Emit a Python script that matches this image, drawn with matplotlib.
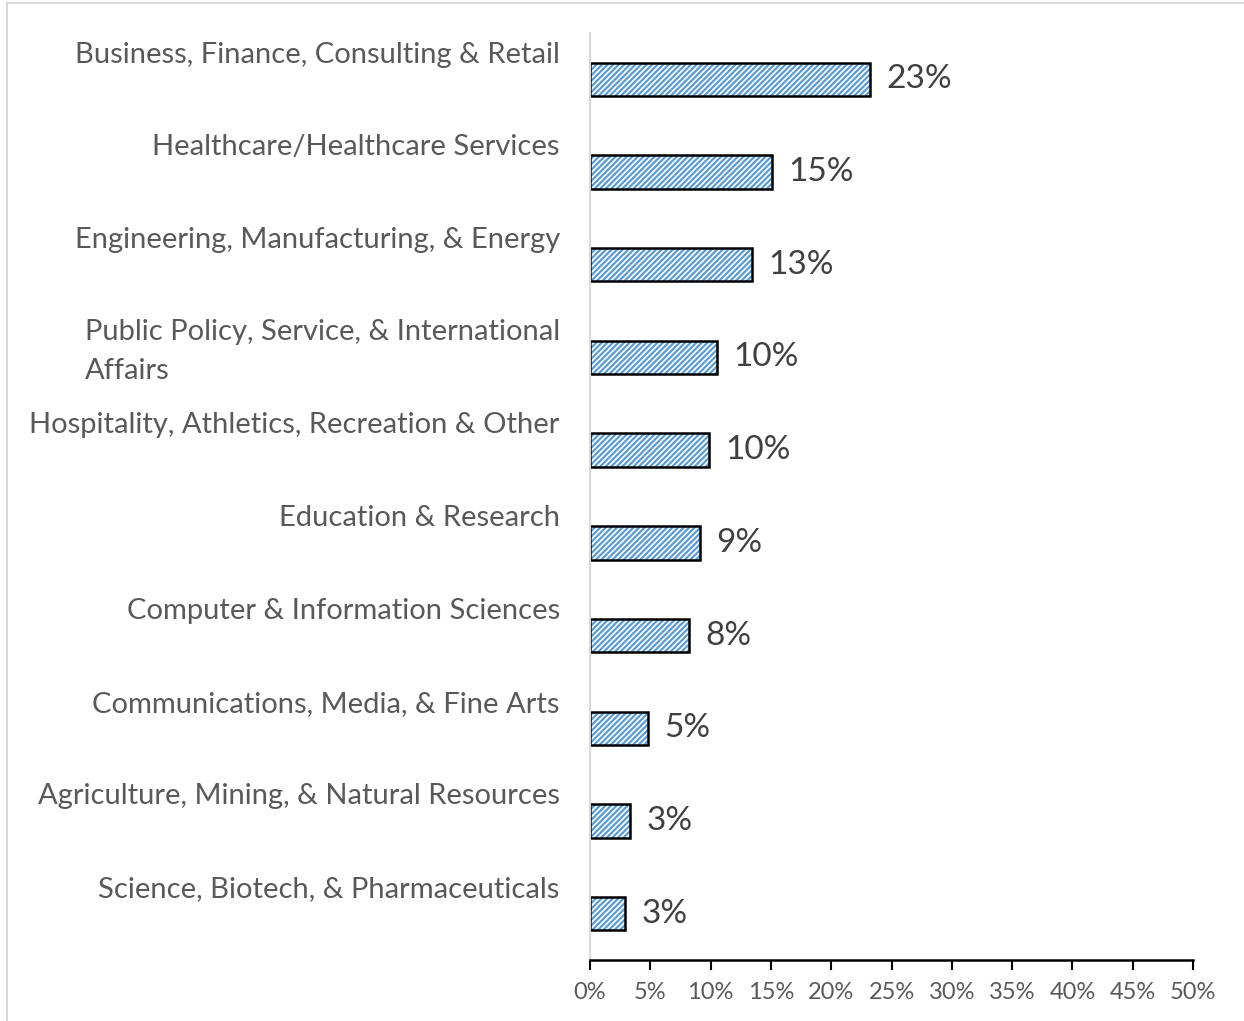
import matplotlib.pyplot as plt
import numpy as np
from matplotlib.lines import Line2D

plt.rcParams["font.family"] = ["Lato", "DejaVu Sans"]
plt.rcParams["hatch.linewidth"] = 1.6

# ---------------------------------------------------------------------------
# Data
# ---------------------------------------------------------------------------
categories = [
    "Business, Finance, Consulting & Retail",
    "Healthcare/Healthcare Services",
    "Engineering, Manufacturing, & Energy",
    "Public Policy, Service, & International\nAffairs",
    "Hospitality, Athletics, Recreation & Other",
    "Education & Research",
    "Computer & Information Sciences",
    "Communications, Media, & Fine Arts",
    "Agriculture, Mining, & Natural Resources",
    "Science, Biotech, & Pharmaceuticals",
]
values = [23.2, 15.1, 13.4, 10.5, 9.9, 9.1, 8.2, 4.8, 3.3, 2.9]
value_labels = ["23%", "15%", "13%", "10%", "10%", "9%", "8%", "5%", "3%", "3%"]
x_ticks = [0, 5, 10, 15, 20, 25, 30, 35, 40, 45, 50]

BLUE = "#5B9BD5"
GREY_TXT = "#595959"
DARK_TXT = "#404040"

W, H = 1244, 1021
fig = plt.figure(figsize=(W / 100, H / 100), dpi=100)
ax = fig.add_axes([590 / W, (H - 960) / H, 603 / W, 927 / H])

y = np.arange(len(categories))
# hatch layer (blue stripes) then black outline on top
ax.barh(y, values, height=0.36, color="white", edgecolor=BLUE,
        hatch="//////", linewidth=0)
ax.barh(y, values, height=0.36, fill=False, edgecolor="black", linewidth=1.8)

for yi, v, lab in zip(y, values, value_labels):
    ax.text(v + 1.35, yi, lab, va="center", ha="left", fontsize=24,
            color=DARK_TXT)

# category labels sit above the bar centre, Excel-style.
# va="baseline" aligns the last line, so push multi-line labels down
line_gap = 0.41
for yi, cat in zip(y, categories):
    extra = cat.count("\n") * line_gap
    ax.text(-2.5, yi - 0.18 + extra, cat, ha="right", va="baseline",
            multialignment="left", fontsize=21, color=GREY_TXT,
            linespacing=1.62)

ax.set_xlim(0, 50)
ax.set_ylim(len(categories) - 0.5, -0.5)
ax.set_yticks([])
ax.set_xticks(x_ticks)
ax.set_xticklabels([f"{t}%" for t in x_ticks])
ax.tick_params(axis="x", direction="out", length=7, width=1.5,
               colors="black", labelcolor=GREY_TXT, labelsize=17, pad=9)

for s in ["top", "right"]:
    ax.spines[s].set_visible(False)
ax.spines["bottom"].set_linewidth(1.8)
ax.spines["bottom"].set_color("black")
ax.spines["left"].set_color("#D9D9D9")
ax.spines["left"].set_linewidth(1.5)

# outer chart-area border (only left and top are visible in the crop)
fig.add_artist(Line2D([7 / W, 7 / W], [0, 1 - 3 / H], color="#D9D9D9",
                      lw=1.5, transform=fig.transFigure))
fig.add_artist(Line2D([7 / W, 1], [1 - 3 / H, 1 - 3 / H], color="#D9D9D9",
                      lw=1.5, transform=fig.transFigure))

fig.savefig("out.png", dpi=100)
